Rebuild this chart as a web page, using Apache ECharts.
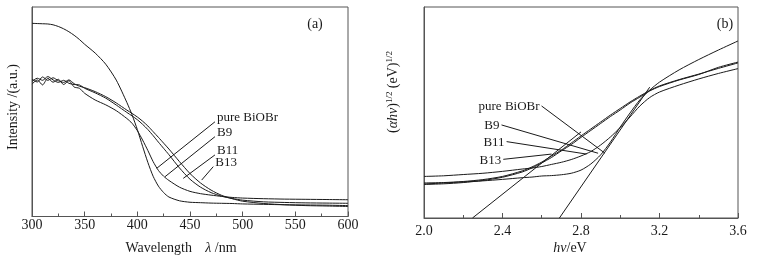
<!DOCTYPE html>
<html>
<head>
<meta charset="utf-8">
<script src="https://cdn.jsdelivr.net/npm/echarts@6/dist/echarts.min.js"></script>
<style>
  html, body { margin: 0; background: #fff; }
  #chart { width: 758px; height: 260px; }
</style>
</head>
<body>
<div id="chart"></div>
<script>
// (a) absorption spectra
const wavelength = [300, 305, 310, 315, 320, 325, 330, 335, 340, 345, 350, 360, 370, 380, 390, 395, 400, 405, 410, 415, 420, 425, 430, 440, 450, 460, 470, 480, 490, 500, 520, 540, 560, 580, 600]
const absPure = [0.922, 0.921, 0.920, 0.919, 0.915, 0.907, 0.896, 0.882, 0.865, 0.845, 0.822, 0.780, 0.727, 0.651, 0.545, 0.485, 0.415, 0.335, 0.258, 0.192, 0.145, 0.114, 0.093, 0.075, 0.068, 0.066, 0.064, 0.063, 0.062, 0.060, 0.058, 0.056, 0.055, 0.054, 0.052]
const absB9 = [0.632, 0.652, 0.628, 0.660, 0.641, 0.655, 0.630, 0.648, 0.618, 0.612, 0.588, 0.556, 0.533, 0.505, 0.468, 0.445, 0.410, 0.365, 0.315, 0.262, 0.220, 0.192, 0.172, 0.140, 0.120, 0.109, 0.102, 0.096, 0.091, 0.088, 0.085, 0.083, 0.082, 0.081, 0.080]
const absB11 = [0.645, 0.660, 0.650, 0.668, 0.652, 0.640, 0.650, 0.636, 0.630, 0.628, 0.612, 0.590, 0.565, 0.532, 0.497, 0.480, 0.462, 0.440, 0.415, 0.386, 0.355, 0.325, 0.295, 0.232, 0.178, 0.140, 0.114, 0.097, 0.086, 0.078, 0.070, 0.067, 0.065, 0.064, 0.063]
const absB13 = [0.655, 0.642, 0.666, 0.650, 0.662, 0.648, 0.640, 0.652, 0.634, 0.622, 0.615, 0.596, 0.572, 0.542, 0.508, 0.492, 0.475, 0.455, 0.432, 0.405, 0.378, 0.350, 0.322, 0.262, 0.205, 0.160, 0.126, 0.101, 0.085, 0.073, 0.062, 0.056, 0.052, 0.050, 0.048]

// (b) Tauc plot
const energy = [2.0, 2.1, 2.2, 2.3, 2.4, 2.5, 2.55, 2.6, 2.65, 2.7, 2.75, 2.8, 2.85, 2.9, 2.95, 3.0, 3.05, 3.1, 3.15, 3.2, 3.3, 3.4, 3.5, 3.6]
const taucPure = [0.161, 0.166, 0.171, 0.176, 0.183, 0.191, 0.194, 0.199, 0.201, 0.205, 0.212, 0.227, 0.256, 0.299, 0.360, 0.431, 0.498, 0.560, 0.606, 0.644, 0.702, 0.751, 0.796, 0.839]
const taucB9 = [0.166, 0.168, 0.173, 0.182, 0.197, 0.223, 0.242, 0.265, 0.294, 0.322, 0.355, 0.389, 0.422, 0.455, 0.488, 0.519, 0.550, 0.578, 0.604, 0.626, 0.656, 0.682, 0.709, 0.735]
const taucB11 = [0.197, 0.200, 0.206, 0.212, 0.221, 0.232, 0.237, 0.244, 0.254, 0.264, 0.277, 0.294, 0.315, 0.346, 0.384, 0.429, 0.479, 0.531, 0.571, 0.597, 0.630, 0.659, 0.685, 0.708]
const taucB13 = [0.159, 0.162, 0.168, 0.178, 0.193, 0.218, 0.237, 0.261, 0.287, 0.318, 0.348, 0.382, 0.415, 0.448, 0.481, 0.512, 0.545, 0.573, 0.602, 0.623, 0.654, 0.680, 0.714, 0.739]

// straight tangent lines of panel (b)
const tangentB9 = [[2.247, 0], [2.80, 0.408]]
const tangentPure = [[2.69, 0], [3.15, 0.62]]

// label leaders
const labelNames = ['pure BiOBr', 'B9', 'B11', 'B13']
const leaderFromA = [[473.7, 0.452], [473.7, 0.381], [473.7, 0.294], [472.1, 0.238]]
const leaderToA = [[418.4, 0.230], [426.3, 0.190], [443.6, 0.182], [461.1, 0.174]]
const leaderFromB = [[2.599, 0.531], [2.395, 0.441], [2.421, 0.362], [2.404, 0.278]]
const leaderToB = [[2.922, 0.307], [2.887, 0.307], [2.828, 0.303], [2.650, 0.303]]

const font = 'Liberation Serif'
const ink = '#1a1a1a'
const frame = '#555'

const zip = (xs, ys) => xs.map((x, i) => [x, ys[i]])

const curve = (idx, xs, ys) => ({
  type: 'line',
  xAxisIndex: idx,
  yAxisIndex: idx,
  data: zip(xs, ys),
  showSymbol: false,
  symbol: 'none',
  smooth: 0.25,
  lineStyle: { color: ink, width: 1 },
  z: 3
})

const segment = (idx, pts) => ({
  type: 'line',
  xAxisIndex: idx,
  yAxisIndex: idx,
  data: pts,
  showSymbol: false,
  symbol: 'none',
  lineStyle: { color: ink, width: 1 },
  z: 3
})

const labels = (idx, pts, pos, offset) => ({
  type: 'scatter',
  xAxisIndex: idx,
  yAxisIndex: idx,
  symbolSize: 0,
  itemStyle: { opacity: 1 },
  data: pts.map((p, i) => ({ value: p, name: labelNames[i] })),
  label: {
    show: true,
    position: pos,
    distance: 2,
    offset,
    formatter: '{b}',
    fontFamily: font,
    fontSize: 13,
    color: ink
  },
  z: 4
})

const xAxisBase = {
  type: 'value',
  axisLine: { lineStyle: { color: frame } },
  axisTick: { inside: true, length: 5, lineStyle: { color: frame } },
  minorTick: { show: true, splitNumber: 2, length: 3, lineStyle: { color: frame } },
  splitLine: { show: false },
  minorSplitLine: { show: false },
  axisLabel: { fontFamily: font, fontSize: 14, color: ink }
}

const yAxisBase = {
  type: 'value',
  min: 0,
  max: 1,
  axisLine: { show: true, lineStyle: { color: frame } },
  axisTick: { show: false },
  axisLabel: { show: false },
  splitLine: { show: false }
}

const series = [
  curve(0, wavelength, absPure),
  curve(0, wavelength, absB9),
  curve(0, wavelength, absB11),
  curve(0, wavelength, absB13),
  curve(1, energy, taucPure),
  curve(1, energy, taucB9),
  curve(1, energy, taucB11),
  curve(1, energy, taucB13),
  segment(1, tangentB9),
  segment(1, tangentPure),
  labels(0, leaderFromA, 'right', [0, -4]),
  labels(1, leaderFromB, 'left', [0, 1])
]
labelNames.forEach((n, i) => {
  series.push(segment(0, [leaderFromA[i], leaderToA[i]]))
  series.push(segment(1, [leaderFromB[i], leaderToB[i]]))
})

const chart = echarts.init(document.getElementById('chart'), null, { renderer: 'canvas' })
chart.setOption({
  animation: false,
  backgroundColor: '#fff',
  grid: [
    { left: 32, right: 410, top: 7, bottom: 43.5, show: true, borderColor: frame, borderWidth: 1 },
    { left: 424, right: 20, top: 7, bottom: 42, show: true, borderColor: frame, borderWidth: 1 }
  ],
  xAxis: [
    { ...xAxisBase, gridIndex: 0, min: 300, max: 600, interval: 50,
      axisLabel: { ...xAxisBase.axisLabel, margin: 2 } },
    { ...xAxisBase, gridIndex: 1, min: 2.0, max: 3.6, interval: 0.4,
      axisLabel: { ...xAxisBase.axisLabel, margin: 6, formatter: v => v.toFixed(1) } }
  ],
  yAxis: [
    { ...yAxisBase, gridIndex: 0 },
    { ...yAxisBase, gridIndex: 1 }
  ],
  series,
  graphic: [
    { type: 'text', x: 315, y: 24, style: { text: '(a)', font: `14px "${font}"`, fill: ink, align: 'center', verticalAlign: 'middle' } },
    { type: 'text', x: 725, y: 24, style: { text: '(b)', font: `14px "${font}"`, fill: ink, align: 'center', verticalAlign: 'middle' } },
    { type: 'text', x: 181, y: 248,
      style: {
        text: '{n|Wavelength}    {i|λ}{n| /nm}',
        align: 'center', verticalAlign: 'middle',
        rich: {
          n: { fontFamily: font, fontSize: 14, fill: ink },
          i: { fontFamily: font, fontSize: 14, fontStyle: 'italic', fill: ink }
        }
      } },
    { type: 'text', x: 570, y: 248,
      style: {
        text: '{i|hν}{n|/eV}',
        align: 'center', verticalAlign: 'middle',
        rich: {
          n: { fontFamily: font, fontSize: 14, fill: ink },
          i: { fontFamily: font, fontSize: 14, fontStyle: 'italic', fill: ink }
        }
      } },
    { type: 'text', x: 13, y: 107, rotation: Math.PI / 2,
      style: { text: 'Intensity /(a.u.)', font: `14px "${font}"`, fill: ink, align: 'center', verticalAlign: 'middle' } },
    { type: 'text', x: 393, y: 92, rotation: Math.PI / 2,
      style: {
        text: '{n|(}{i|αhν}{n|)}{s|1/2} {n|(eV)}{s|1/2}',
        align: 'center', verticalAlign: 'middle',
        rich: {
          n: { fontFamily: font, fontSize: 14, fill: ink },
          i: { fontFamily: font, fontSize: 14, fontStyle: 'italic', fill: ink },
          s: { fontFamily: font, fontSize: 9, fill: ink, padding: [0, 0, 7, 0] }
        }
      } }
  ]
})
</script>
</body>
</html>
